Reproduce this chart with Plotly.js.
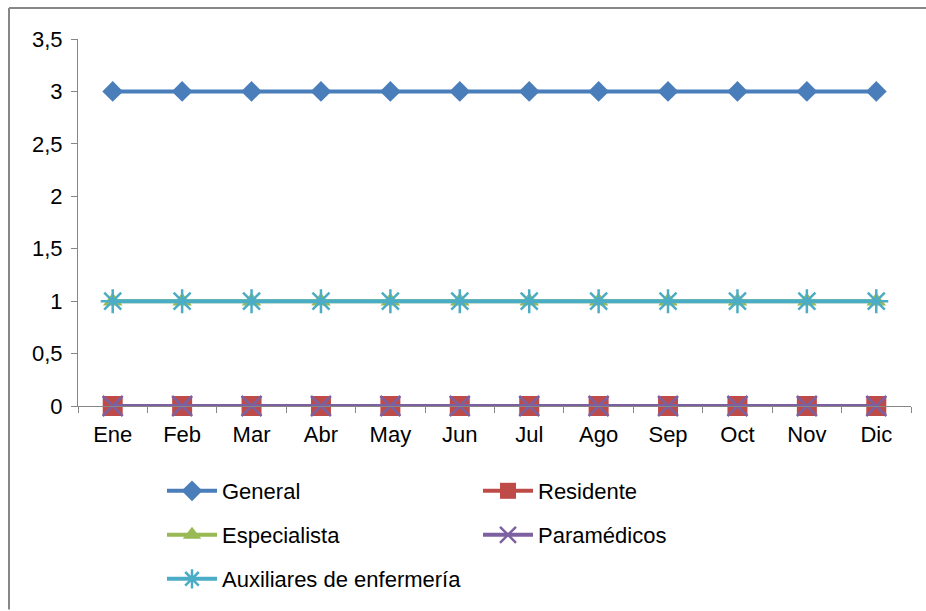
<!DOCTYPE html>
<html>
<head>
<meta charset="utf-8">
<script src="https://cdn.plot.ly/plotly-3.0.1.min.js"></script>
<style>
  html, body { margin: 0; padding: 0; background: #fff; }
  #chart { width: 926px; height: 611px; }
</style>
</head>
<body>
<div id="chart"></div>
<script>
const months = ["Ene","Feb","Mar","Abr","May","Jun","Jul","Ago","Sep","Oct","Nov","Dic"];
const general = [3,3,3,3,3,3,3,3,3,3,3,3];
const residente = [0,0,0,0,0,0,0,0,0,0,0,0];
const especialista = [1,1,1,1,1,1,1,1,1,1,1,1];
const paramedicos = [0,0,0,0,0,0,0,0,0,0,0,0];
const auxiliares = [1,1,1,1,1,1,1,1,1,1,1,1];
const seriesNames = ["General","Residente","Especialista","Paramédicos","Auxiliares de enfermería"];
const yTicks = [0,0.5,1,1.5,2,2.5,3,3.5];

const FONT = "Liberation Sans, Arial, sans-serif";
const W = 926, H = 611;
const L = 78, R = 911, T = 39, B = 407;
const px = x => (x - L) / (R - L);
const py = y => (B - y) / (B - T);

const traces = [
  {x: months, y: general, name: seriesNames[0], legend: "legend",
   line: {color: "#4A7EBB", width: 4},
   marker: {symbol: "diamond", size: 16, color: "#4A7EBB"}},
  {x: months, y: residente, name: seriesNames[1], legend: "legend2",
   line: {color: "#BE4B48", width: 4},
   marker: {symbol: "square", size: 20, color: "#BE4B48"}},
  {x: months, y: especialista, name: seriesNames[2], legend: "legend3",
   line: {color: "#98B954", width: 4},
   marker: {symbol: "triangle-up", size: 17, color: "#98B954"}},
  {x: months, y: paramedicos, name: seriesNames[3], legend: "legend4",
   line: {color: "#7D60A0", width: 4},
   marker: {symbol: "x-thin-open", size: 20, color: "#7D60A0", line: {color: "#7D60A0", width: 2.5}}},
  {x: months, y: auxiliares, name: seriesNames[4], legend: "legend5",
   line: {color: "#4BACC6", width: 4},
   marker: {symbol: "asterisk-open", size: 20, color: "#4BACC6", line: {color: "#4BACC6", width: 2.5}}}
].map(t => Object.assign({type: "scatter", mode: "lines+markers", hoverinfo: "skip", cliponaxis: false}, t));

function leg(x, y) {
  return {x: px(x), y: py(y), xanchor: "left", yanchor: "middle",
          bgcolor: "rgba(0,0,0,0)", borderwidth: 0, itemwidth: 50,
          font: {family: FONT, size: 22, color: "#000"}};
}

const layout = {
  width: W, height: H,
  margin: {l: L, r: W - R, t: T, b: H - B, pad: 0},
  paper_bgcolor: "#fff", plot_bgcolor: "#fff",
  separators: ",.",
  showlegend: true,
  font: {family: FONT, size: 22, color: "#000"},
  xaxis: {
    type: "category", range: [-0.5, 11.5],
    showgrid: false, zeroline: false,
    showline: true, linecolor: "#868686", linewidth: 1,
    ticks: "outside", tickson: "boundaries", ticklen: 6, tickcolor: "#868686",
    ticklabelstandoff: 9,
    tickfont: {family: FONT, size: 22, color: "#000"},
    fixedrange: true
  },
  yaxis: {
    range: [0, 3.5], tickvals: yTicks,
    showgrid: false, zeroline: false,
    showline: true, linecolor: "#868686", linewidth: 1,
    ticks: "outside", ticklen: 6, tickcolor: "#868686",
    ticklabelstandoff: 4,
    tickfont: {family: FONT, size: 22, color: "#000"},
    fixedrange: true
  },
  legend: leg(162, 491),
  legend2: leg(478, 491),
  legend3: leg(162, 535),
  legend4: leg(478, 535),
  legend5: leg(162, 579),
  shapes: [
    {type: "line", xref: "paper", yref: "paper", x0: px(9), x1: px(9), y0: py(8), y1: py(611),
     line: {color: "#878787", width: 2}},
    {type: "line", xref: "paper", yref: "paper", x0: px(9), x1: px(926), y0: py(8), y1: py(8),
     line: {color: "#878787", width: 2}}
  ]
};

Plotly.newPlot("chart", traces, layout, {displayModeBar: false, staticPlot: true});
</script>
</body>
</html>
